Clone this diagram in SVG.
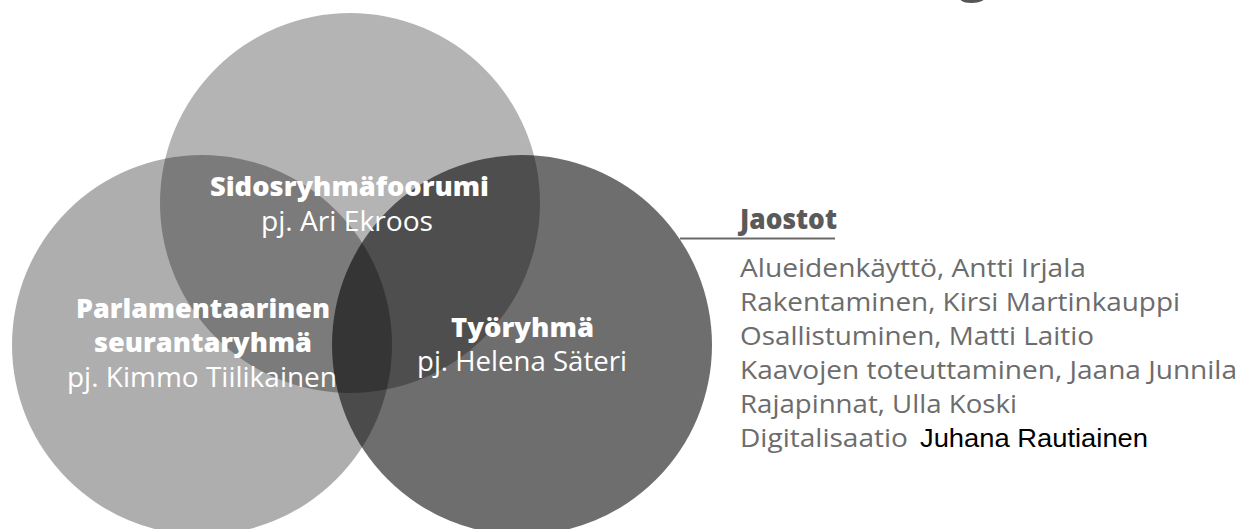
<svg xmlns="http://www.w3.org/2000/svg" width="1243" height="529" viewBox="0 0 1243 529">
  <style>
    .circle { fill: #000000; stroke: none; }
    .lbl { font-family: "Open Sans", "Noto Sans", "DejaVu Sans", sans-serif; fill: #ffffff; text-anchor: middle; }
    .b { font-weight: 800; font-size: 26px; }
    .r { font-weight: 400; font-size: 27px; }
    .list { font-family: "Open Sans", "Noto Sans", "DejaVu Sans", sans-serif; font-size: 26px; fill: #6c6c6c; }
    .head { font-family: "Open Sans", "Noto Sans", "DejaVu Sans", sans-serif; font-size: 28px; font-weight: 800; fill: #5a5a5a; }
    .arial { font-family: "Liberation Sans", Arial, sans-serif; font-size: 25px; fill: #000000; }
    .conn { stroke: #6a6a6a; stroke-width: 2; fill: none; }
  </style>
  <rect width="1243" height="529" fill="#ffffff"/>

  <!-- title fragment cut off at the top edge, as in the reference -->
  <text x="958" y="-10" font-family="'Open Sans', sans-serif" font-size="55" font-weight="700" fill="#555555">g</text>

  <!-- circles (each node's shape) -->
  <g id="node-sidosryhmafoorumi">
    <circle class="circle" cx="350" cy="203" r="190" fill-opacity="0.294"/>
  </g>
  <g id="node-parlamentaarinen-seurantaryhma">
    <circle class="circle" cx="202" cy="345" r="190" fill-opacity="0.318"/>
  </g>
  <g id="node-tyoryhma">
    <circle class="circle" cx="522" cy="345" r="190" fill-opacity="0.569"/>
  </g>

  <!-- connectors -->
  <g id="connectors">
    <line class="conn" x1="680" y1="238.5" x2="835" y2="238.5"/>
  </g>

  <!-- labels -->
  <g id="label-sidosryhmafoorumi">
    <text class="lbl b" x="349.5" y="196" textLength="279" lengthAdjust="spacingAndGlyphs">Sidosryhmäfoorumi</text>
    <text class="lbl r" x="347" y="231" textLength="172" lengthAdjust="spacingAndGlyphs">pj. Ari Ekroos</text>
  </g>
  <g id="label-parlamentaarinen-seurantaryhma">
    <text class="lbl b" x="203" y="318" textLength="254" lengthAdjust="spacingAndGlyphs">Parlamentaarinen</text>
    <text class="lbl b" x="203" y="352" textLength="218" lengthAdjust="spacingAndGlyphs">seurantaryhmä</text>
    <text class="lbl r" x="202" y="387" textLength="270" lengthAdjust="spacingAndGlyphs">pj. Kimmo Tiilikainen</text>
  </g>
  <g id="label-tyoryhma">
    <text class="lbl b" x="522.5" y="337" textLength="143" lengthAdjust="spacingAndGlyphs">Työryhmä</text>
    <text class="lbl r" x="522" y="371" textLength="210" lengthAdjust="spacingAndGlyphs">pj. Helena Säteri</text>
  </g>

  <g id="node-jaostot">
    <text class="head" x="740" y="229" textLength="97" lengthAdjust="spacingAndGlyphs">Jaostot</text>
    <text class="list" x="740" y="277" textLength="346" lengthAdjust="spacingAndGlyphs">Alueidenkäyttö, Antti Irjala</text>
    <text class="list" x="740" y="311" textLength="440" lengthAdjust="spacingAndGlyphs">Rakentaminen, Kirsi Martinkauppi</text>
    <text class="list" x="740" y="345" textLength="354" lengthAdjust="spacingAndGlyphs">Osallistuminen, Matti Laitio</text>
    <text class="list" x="740" y="379" textLength="497" lengthAdjust="spacingAndGlyphs">Kaavojen toteuttaminen, Jaana Junnila</text>
    <text class="list" x="740" y="413" textLength="277" lengthAdjust="spacingAndGlyphs">Rajapinnat, Ulla Koski</text>
    <text class="list" x="740" y="447" textLength="168" lengthAdjust="spacingAndGlyphs">Digitalisaatio</text>
    <text class="arial" x="920" y="447" textLength="228" lengthAdjust="spacingAndGlyphs">Juhana Rautiainen</text>
  </g>
</svg>
